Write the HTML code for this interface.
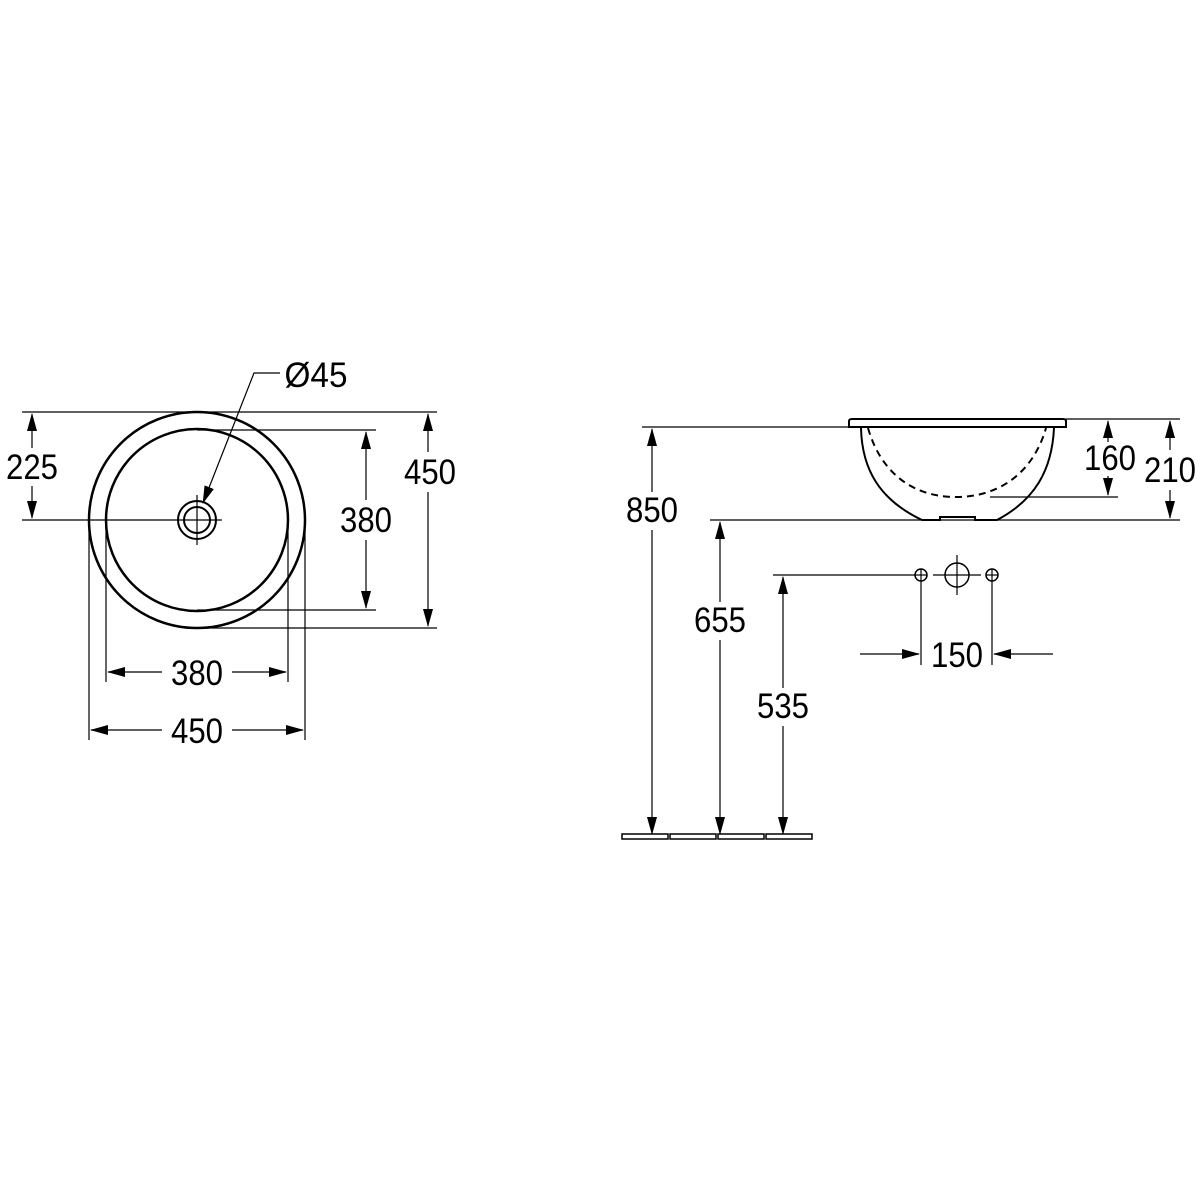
<!DOCTYPE html>
<html><head><style>html,body{margin:0;padding:0;background:#fff}svg{display:block}</style></head><body>
<svg width="1200" height="1200" viewBox="0 0 1200 1200" xmlns="http://www.w3.org/2000/svg">
<defs>
<marker id="a" markerWidth="18" markerHeight="10" refX="17" refY="5" orient="auto-start-reverse" markerUnits="userSpaceOnUse">
<path d="M0,0 L18,5 L0,10 Z" fill="#000"/></marker>
</defs>
<g stroke="#000" fill="none" stroke-width="1.2">
<circle cx="197" cy="520" r="108" stroke-width="2.5"/>
<circle cx="197" cy="520" r="91" stroke-width="2.5"/>
<circle cx="197" cy="520" r="19" stroke-width="2"/>
<circle cx="197" cy="520" r="13" stroke-width="2"/>
<line x1="22" y1="412" x2="437" y2="412"/>
<line x1="22" y1="520" x2="222" y2="520"/>
<line x1="197" y1="495" x2="197" y2="545"/>
<line x1="197" y1="430" x2="376" y2="430"/>
<line x1="197" y1="610" x2="376" y2="610"/>
<line x1="197" y1="628" x2="437" y2="628"/>
<line x1="32" y1="414" x2="32" y2="448" marker-start="url(#a)"/>
<line x1="32" y1="486" x2="32" y2="518" marker-end="url(#a)"/>
<line x1="366" y1="432" x2="366" y2="500" marker-start="url(#a)"/>
<line x1="366" y1="540" x2="366" y2="608" marker-end="url(#a)"/>
<line x1="428" y1="414" x2="428" y2="452" marker-start="url(#a)"/>
<line x1="428" y1="492" x2="428" y2="626" marker-end="url(#a)"/>
<line x1="106" y1="520" x2="106" y2="682"/>
<line x1="288" y1="530" x2="288" y2="682"/>
<line x1="89" y1="520" x2="89" y2="740"/>
<line x1="305" y1="530" x2="305" y2="740"/>
<line x1="108" y1="672" x2="162" y2="672" marker-start="url(#a)"/>
<line x1="232" y1="672" x2="286" y2="672" marker-end="url(#a)"/>
<line x1="91" y1="730" x2="162" y2="730" marker-start="url(#a)"/>
<line x1="232" y1="730" x2="303" y2="730" marker-end="url(#a)"/>
<polyline points="280,373 254,373 203,503" marker-end="url(#a)"/>
<path d="M849,427 L849,421 Q849,419 852,419 L1063,419 Q1066,419 1066,421 L1066,427 Z" stroke-width="2"/>
<path d="M861,428 C862,470 880,500 922,520 L940,520 L940,517 L975,517 L975,520 L997,520 C1035,500 1052,470 1054,428" stroke-width="2"/>
<path d="M868,428 C880,470 910,497 956,497 C1002,497 1034,470 1046,428" stroke-width="2" stroke-dasharray="7,5"/>
<line x1="642" y1="427" x2="849" y2="427"/>
<line x1="1066" y1="419" x2="1180" y2="419"/>
<line x1="990" y1="497" x2="1118" y2="497"/>
<line x1="710" y1="520" x2="1180" y2="520"/>
<line x1="1108" y1="421" x2="1108" y2="442" marker-start="url(#a)"/>
<line x1="1108" y1="476" x2="1108" y2="495" marker-end="url(#a)"/>
<line x1="1170" y1="421" x2="1170" y2="450" marker-start="url(#a)"/>
<line x1="1170" y1="490" x2="1170" y2="518" marker-end="url(#a)"/>
<line x1="652" y1="429" x2="652" y2="492" marker-start="url(#a)"/>
<line x1="652" y1="530" x2="652" y2="834" marker-end="url(#a)"/>
<line x1="720" y1="522" x2="720" y2="602" marker-start="url(#a)"/>
<line x1="720" y1="640" x2="720" y2="834" marker-end="url(#a)"/>
<line x1="783" y1="577" x2="783" y2="688" marker-start="url(#a)"/>
<line x1="783" y1="726" x2="783" y2="834" marker-end="url(#a)"/>
<line x1="773" y1="575" x2="915" y2="575"/>
<circle cx="921" cy="575" r="6" stroke-width="1.5"/>
<line x1="921" y1="569" x2="921" y2="665"/><line x1="915" y1="575" x2="927" y2="575"/>
<circle cx="992" cy="575" r="6" stroke-width="1.5"/>
<line x1="992" y1="569" x2="992" y2="665"/><line x1="986" y1="575" x2="998" y2="575"/>
<circle cx="957" cy="575" r="12" stroke-width="1.5"/>
<line x1="933" y1="575" x2="981" y2="575"/><line x1="957" y1="555" x2="957" y2="595"/>
<line x1="860" y1="654" x2="919" y2="654" marker-end="url(#a)"/>
<line x1="1053" y1="654" x2="994" y2="654" marker-end="url(#a)"/>
<g stroke-width="1.5">
<rect x="622" y="834" width="46" height="5"/>
<rect x="670" y="834" width="46" height="5"/>
<rect x="718" y="834" width="46" height="5"/>
<rect x="766" y="834" width="46" height="5"/>
</g>
</g>
<g font-family="Liberation Sans, sans-serif" font-size="35" fill="#000" text-anchor="middle" lengthAdjust="spacingAndGlyphs">
<text x="32" y="479" textLength="52" lengthAdjust="spacingAndGlyphs">225</text>
<text x="430" y="484" textLength="52" lengthAdjust="spacingAndGlyphs">450</text>
<text x="366" y="532" textLength="52" lengthAdjust="spacingAndGlyphs">380</text>
<text x="197" y="685" textLength="52" lengthAdjust="spacingAndGlyphs">380</text>
<text x="197" y="743" textLength="52" lengthAdjust="spacingAndGlyphs">450</text>
<text x="316" y="387" textLength="63" lengthAdjust="spacingAndGlyphs">Ø45</text>
<text x="652" y="522" textLength="52" lengthAdjust="spacingAndGlyphs">850</text>
<text x="720" y="632" textLength="52" lengthAdjust="spacingAndGlyphs">655</text>
<text x="783" y="718" textLength="52" lengthAdjust="spacingAndGlyphs">535</text>
<text x="957" y="667" textLength="52" lengthAdjust="spacingAndGlyphs">150</text>
<text x="1110" y="470" textLength="52" lengthAdjust="spacingAndGlyphs">160</text>
<text x="1170" y="482" textLength="52" lengthAdjust="spacingAndGlyphs">210</text>
</g>
</svg>
</body></html>
